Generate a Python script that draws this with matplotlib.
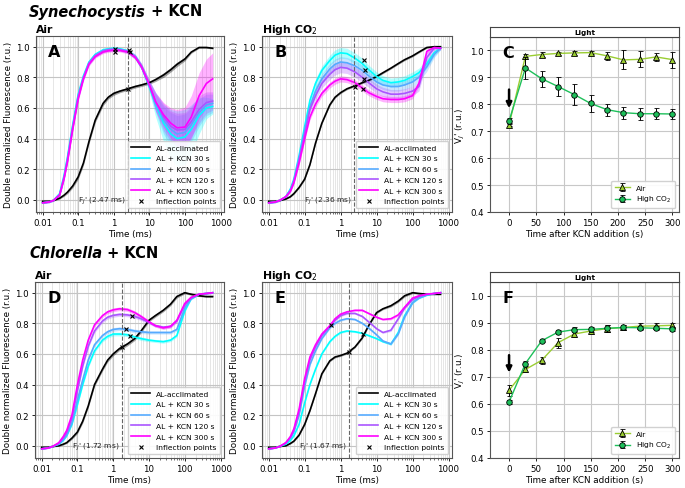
import matplotlib
matplotlib.use('Agg')
import matplotlib.pyplot as plt

# time axis of the OJIP transients (ms)
t_ms = [0.01, 0.015, 0.02, 0.03, 0.04, 0.05, 0.07, 0.1, 0.14, 0.2, 0.3, 0.5, 0.7, 1,
        1.5, 2.5, 4, 6, 10, 15, 25, 40, 60, 100, 150, 250, 400, 600]
curve_labels = ['AL-acclimated', 'AL + KCN 30 s', 'AL + KCN 60 s', 'AL + KCN 120 s', 'AL + KCN 300 s']

# ---- A : Synechocystis, air ----
a_al = [-0.01, -0.01, -0.005, 0.01, 0.03, 0.05, 0.09, 0.15, 0.24, 0.38, 0.52, 0.63, 0.67, 0.695,
        0.71, 0.725, 0.74, 0.75, 0.765, 0.785, 0.815, 0.85, 0.885, 0.92, 0.965, 0.995, 0.995, 0.99]
a_30 = [-0.02, -0.015, -0.005, 0.04, 0.16, 0.28, 0.49, 0.69, 0.81, 0.9, 0.95, 0.98, 0.986, 0.99,
        0.986, 0.972, 0.935, 0.87, 0.74, 0.62, 0.5, 0.43, 0.4, 0.41, 0.46, 0.55, 0.6, 0.61]
a_60 = [-0.02, -0.015, -0.005, 0.035, 0.15, 0.27, 0.48, 0.68, 0.8, 0.895, 0.945, 0.975, 0.982, 0.985,
        0.982, 0.97, 0.935, 0.87, 0.745, 0.63, 0.52, 0.46, 0.43, 0.44, 0.49, 0.57, 0.62, 0.63]
a_120 = [-0.02, -0.015, -0.005, 0.033, 0.14, 0.26, 0.47, 0.67, 0.795, 0.89, 0.94, 0.972, 0.98, 0.983,
         0.98, 0.97, 0.935, 0.87, 0.75, 0.64, 0.54, 0.48, 0.455, 0.46, 0.51, 0.59, 0.635, 0.645]
a_300 = [-0.02, -0.015, -0.005, 0.03, 0.14, 0.25, 0.46, 0.66, 0.79, 0.885, 0.935, 0.965, 0.973, 0.977,
         0.975, 0.965, 0.93, 0.87, 0.75, 0.64, 0.555, 0.5, 0.47, 0.475, 0.54, 0.68, 0.76, 0.79]
a_sd_al = [0.003, 0.003, 0.003, 0.005, 0.008, 0.01, 0.012, 0.015, 0.015, 0.015, 0.015, 0.015, 0.012, 0.012,
           0.01, 0.01, 0.01, 0.01, 0.01, 0.012, 0.015, 0.015, 0.015, 0.012, 0.008, 0.005, 0.005, 0.005]
a_sd_30 = [0.005, 0.005, 0.005, 0.01, 0.015, 0.015, 0.015, 0.015, 0.015, 0.012, 0.01, 0.01, 0.01, 0.01,
           0.01, 0.012, 0.015, 0.02, 0.04, 0.08, 0.12, 0.16, 0.18, 0.18, 0.16, 0.12, 0.07, 0.05]
a_sd_60 = [0.005, 0.005, 0.005, 0.01, 0.015, 0.015, 0.015, 0.015, 0.015, 0.012, 0.01, 0.01, 0.01, 0.01,
           0.01, 0.012, 0.015, 0.02, 0.03, 0.06, 0.09, 0.11, 0.12, 0.12, 0.11, 0.09, 0.07, 0.06]
a_sd_120 = [0.005, 0.005, 0.005, 0.01, 0.015, 0.015, 0.015, 0.015, 0.015, 0.012, 0.01, 0.01, 0.01, 0.01,
            0.01, 0.012, 0.015, 0.02, 0.03, 0.06, 0.09, 0.1, 0.11, 0.11, 0.1, 0.09, 0.07, 0.06]
a_sd_300 = [0.005, 0.005, 0.005, 0.01, 0.015, 0.015, 0.015, 0.015, 0.015, 0.012, 0.01, 0.01, 0.01, 0.01,
            0.01, 0.012, 0.015, 0.02, 0.03, 0.06, 0.08, 0.1, 0.12, 0.13, 0.14, 0.15, 0.16, 0.17]
a_ip_t = [2.47, 1.1, 1.1, 2.6, 2.9]
a_ip_f = [0.725, 0.982, 0.966, 0.976, 0.965]

# ---- B : Synechocystis, high CO2 ----
b_al = [-0.01, -0.01, -0.005, 0.005, 0.02, 0.04, 0.08, 0.135, 0.23, 0.37, 0.5, 0.62, 0.67, 0.70,
        0.725, 0.745, 0.765, 0.78, 0.805, 0.83, 0.86, 0.89, 0.915, 0.94, 0.965, 0.995, 1.0, 1.0]
b_30 = [-0.02, -0.015, -0.005, 0.02, 0.07, 0.135, 0.29, 0.48, 0.65, 0.76, 0.845, 0.91, 0.945, 0.96,
        0.955, 0.925, 0.89, 0.85, 0.805, 0.78, 0.765, 0.77, 0.78, 0.805, 0.83, 0.89, 0.96, 0.99]
b_60 = [-0.02, -0.015, -0.005, 0.02, 0.065, 0.125, 0.27, 0.45, 0.61, 0.71, 0.79, 0.855, 0.885, 0.9,
        0.895, 0.875, 0.845, 0.81, 0.77, 0.75, 0.74, 0.74, 0.75, 0.77, 0.8, 0.87, 0.95, 0.99]
b_120 = [-0.02, -0.015, -0.005, 0.02, 0.06, 0.12, 0.26, 0.43, 0.59, 0.68, 0.76, 0.82, 0.85, 0.865,
         0.86, 0.835, 0.8, 0.765, 0.725, 0.705, 0.69, 0.69, 0.695, 0.71, 0.74, 0.93, 0.99, 0.99]
b_300 = [-0.02, -0.015, -0.005, 0.02, 0.055, 0.11, 0.24, 0.4, 0.54, 0.625, 0.695, 0.75, 0.775, 0.79,
         0.785, 0.765, 0.73, 0.7, 0.675, 0.66, 0.655, 0.655, 0.66, 0.68, 0.76, 0.97, 0.995, 0.99]
b_sd_al = [0.003, 0.003, 0.003, 0.003, 0.004, 0.005, 0.005, 0.006, 0.006, 0.006, 0.006, 0.006, 0.006, 0.006,
           0.006, 0.006, 0.006, 0.006, 0.006, 0.006, 0.006, 0.006, 0.006, 0.006, 0.006, 0.005, 0.004, 0.004]
b_sd_kcn = [0.005, 0.005, 0.005, 0.008, 0.01, 0.012, 0.015, 0.02, 0.025, 0.03, 0.03, 0.035, 0.035, 0.035,
            0.035, 0.035, 0.035, 0.03, 0.03, 0.03, 0.03, 0.03, 0.03, 0.03, 0.03, 0.03, 0.02, 0.01]
b_sd_300 = [0.005, 0.005, 0.005, 0.006, 0.008, 0.01, 0.012, 0.015, 0.018, 0.02, 0.02, 0.02, 0.02, 0.02,
            0.02, 0.02, 0.02, 0.02, 0.02, 0.02, 0.02, 0.02, 0.02, 0.02, 0.02, 0.015, 0.01, 0.01]
b_ip_t = [2.43, 4.4, 4.7, 4.4, 4.1]
b_ip_f = [0.74, 0.913, 0.85, 0.79, 0.726]

# ---- D : Chlorella, air ----
d_al = [-0.01, -0.01, -0.005, 0.0, 0.01, 0.02, 0.05, 0.09, 0.16, 0.26, 0.4, 0.5, 0.56, 0.6,
        0.635, 0.665, 0.7, 0.75, 0.82, 0.85, 0.885, 0.925, 0.975, 1.0, 0.99, 0.98, 0.975, 0.975]
d_30 = [-0.02, -0.015, -0.005, 0.01, 0.035, 0.065, 0.14, 0.27, 0.4, 0.52, 0.62, 0.69, 0.715, 0.73,
        0.73, 0.725, 0.71, 0.7, 0.69, 0.685, 0.68, 0.69, 0.72, 0.88, 0.96, 0.99, 0.995, 1.0]
d_60 = [-0.02, -0.015, -0.005, 0.01, 0.04, 0.07, 0.15, 0.3, 0.43, 0.56, 0.66, 0.72, 0.745, 0.76,
        0.765, 0.76, 0.75, 0.745, 0.74, 0.74, 0.74, 0.74, 0.76, 0.9, 0.96, 0.99, 0.995, 1.0]
d_120 = [-0.02, -0.015, -0.005, 0.015, 0.05, 0.085, 0.18, 0.36, 0.52, 0.65, 0.75, 0.815, 0.84, 0.852,
         0.858, 0.855, 0.845, 0.83, 0.805, 0.785, 0.775, 0.78, 0.815, 0.92, 0.965, 0.99, 0.995, 1.0]
d_300 = [-0.02, -0.015, -0.005, 0.02, 0.06, 0.1, 0.2, 0.4, 0.56, 0.69, 0.79, 0.85, 0.875, 0.888,
         0.895, 0.89, 0.87, 0.845, 0.81, 0.785, 0.77, 0.78, 0.82, 0.93, 0.97, 0.99, 0.995, 1.0]
d_sd = [0.003, 0.003, 0.003, 0.004, 0.005, 0.006, 0.008, 0.01, 0.012, 0.012, 0.012, 0.012, 0.012, 0.012,
        0.012, 0.012, 0.012, 0.012, 0.01, 0.01, 0.01, 0.01, 0.01, 0.008, 0.006, 0.005, 0.005, 0.005]
d_ip_t = [1.72, 3.0, 2.3, 3.3]
d_ip_f = [0.645, 0.72, 0.762, 0.85]

# ---- E : Chlorella, high CO2 ----
e_al = [-0.01, -0.01, -0.005, 0.0, 0.015, 0.03, 0.07, 0.14, 0.23, 0.34, 0.47, 0.555, 0.58, 0.59,
        0.605, 0.645, 0.705, 0.785, 0.87, 0.895, 0.915, 0.945, 0.98, 1.0, 0.995, 0.99, 0.99, 0.99]
e_30 = [-0.02, -0.015, -0.005, 0.01, 0.035, 0.065, 0.14, 0.28, 0.4, 0.5, 0.6, 0.68, 0.715, 0.74,
        0.75, 0.745, 0.735, 0.72, 0.7, 0.68, 0.665, 0.74, 0.85, 0.935, 0.965, 0.985, 0.995, 1.0]
e_60 = [-0.02, -0.015, -0.005, 0.015, 0.05, 0.09, 0.2, 0.39, 0.53, 0.62, 0.7, 0.77, 0.8, 0.82,
        0.83, 0.825, 0.8, 0.77, 0.725, 0.685, 0.665, 0.73, 0.84, 0.935, 0.965, 0.985, 0.995, 1.0]
e_120 = [-0.02, -0.015, -0.005, 0.02, 0.055, 0.1, 0.22, 0.42, 0.56, 0.645, 0.72, 0.78, 0.82, 0.85,
         0.865, 0.865, 0.845, 0.81, 0.765, 0.74, 0.755, 0.83, 0.9, 0.955, 0.975, 0.99, 0.995, 1.0]
e_300 = [-0.02, -0.015, -0.005, 0.02, 0.06, 0.11, 0.24, 0.44, 0.58, 0.66, 0.73, 0.785, 0.83, 0.86,
         0.875, 0.885, 0.885, 0.865, 0.84, 0.825, 0.83, 0.855, 0.905, 0.965, 0.98, 0.99, 0.995, 1.0]
e_sd = [0.002, 0.002, 0.002, 0.003, 0.004, 0.004, 0.005, 0.006, 0.006, 0.006, 0.006, 0.006, 0.006, 0.006,
        0.006, 0.006, 0.006, 0.006, 0.006, 0.006, 0.008, 0.008, 0.008, 0.006, 0.005, 0.004, 0.004, 0.004]
e_ip_t = [1.67, 0.55, 4.1]
e_ip_f = [0.61, 0.79, 0.73]

# ---- C / F : VJ' after KCN addition ----
kcn_t = [0, 30, 60, 90, 120, 150, 180, 210, 240, 270, 300]
c_air = [0.724, 0.978, 0.985, 0.989, 0.991, 0.992, 0.980, 0.965, 0.967, 0.976, 0.966]
c_air_err = [0.006, 0.008, 0.008, 0.005, 0.007, 0.005, 0.015, 0.035, 0.03, 0.015, 0.03]
c_hc = [0.738, 0.935, 0.895, 0.866, 0.836, 0.803, 0.780, 0.769, 0.765, 0.765, 0.764]
c_hc_err = [0.01, 0.04, 0.03, 0.035, 0.04, 0.03, 0.022, 0.022, 0.022, 0.02, 0.018]
f_air = [0.650, 0.727, 0.761, 0.826, 0.858, 0.869, 0.878, 0.882, 0.887, 0.888, 0.890]
f_air_err = [0.02, 0.01, 0.012, 0.018, 0.012, 0.012, 0.012, 0.01, 0.012, 0.01, 0.01]
f_hc = [0.607, 0.749, 0.833, 0.865, 0.874, 0.875, 0.879, 0.882, 0.881, 0.879, 0.877]
f_hc_err = [0.008, 0.008, 0.006, 0.006, 0.008, 0.01, 0.012, 0.01, 0.008, 0.008, 0.008]

cmap = plt.cm.cool
colors = ['black', cmap(0.0), cmap(1 / 3), cmap(2 / 3), cmap(1.0)]

W, H = 685, 489
fig = plt.figure(figsize=(W / 100, H / 100), dpi=100)

TICK = 6.2
LAB = 6.3
LEG = 5.4


def rect(l, t, r, b):
    return [l / W, 1 - b / H, (r - l) / W, (b - t) / H]


def ojip(box, curves, sds, ip_t, ip_f, fj, letter, title):
    ax = fig.add_axes(box)
    ax.set_xscale('log')
    for i, (y, sd) in enumerate(zip(curves, sds)):
        lo = [v - s for v, s in zip(y, sd)]
        hi = [v + s for v, s in zip(y, sd)]
        ax.fill_between(t_ms, lo, hi, color=colors[i], alpha=0.3 if i else 0.35, lw=0, zorder=2)
    for i, y in enumerate(curves):
        ax.plot(t_ms, y, color=colors[i], lw=1.2, label=curve_labels[i], zorder=3)
    ax.plot(ip_t, ip_f, 'x', color='black', ms=3.5, mew=0.8, ls='none', label='Inflection points', zorder=4)
    ax.axvline(fj, color='#666666', ls='--', lw=0.8, zorder=3)
    ax.text(fj / 1.12, -0.005, "F$_J$' (%.2f ms)" % fj, ha='right', va='center', fontsize=5.4, color='#222222')
    ax.set_xlim(0.0065, 1250)
    ax.set_ylim(-0.08, 1.07)
    ax.set_xticks([0.01, 0.1, 1, 10, 100, 1000])
    ax.set_xticklabels(['0.01', '0.1', '1', '10', '100', '1000'])
    ax.set_yticks([0.0, 0.2, 0.4, 0.6, 0.8, 1.0])
    ax.set_yticklabels(['0.0', '0.2', '0.4', '0.6', '0.8', '1.0'])
    ax.tick_params(labelsize=TICK, length=2.5, width=0.6, pad=2)
    ax.tick_params(which='minor', length=1.3, width=0.4)
    ax.grid(True, which='major', color='#c4c4c4', lw=0.8, zorder=0)
    ax.grid(True, which='minor', axis='x', color='#e2e2e2', lw=0.6, zorder=0)
    ax.set_axisbelow(True)
    for s in ax.spines.values():
        s.set_color('#555555')
    ax.set_xlabel('Time (ms)', fontsize=LAB, labelpad=1)
    ax.set_ylabel('Double normalized Fluorescence (r.u.)', fontsize=LAB, labelpad=2)
    ax.set_title(title, loc='left', fontsize=7.8, fontweight='bold', pad=3)
    ax.text(0.065, 0.955, letter, transform=ax.transAxes, fontsize=11.5, fontweight='bold', va='top')
    ax.legend(loc='lower right', fontsize=LEG, labelspacing=0.6, handlelength=2.5,
              borderpad=0.5, framealpha=0.9, edgecolor='#cccccc')
    return ax


def vj(box, strip, air, air_err, hc, hc_err, arrow_top, arrow_tip, letter):
    ax = fig.add_axes(box)
    ax.errorbar(kcn_t, air, yerr=air_err, color='#9acd32', lw=1.0, marker='^', ms=4,
                mfc='#9acd32', mec='black', mew=0.6, ecolor='black', elinewidth=0.7, capsize=1.8,
                label='Air', zorder=3)
    ax.errorbar(kcn_t, hc, yerr=hc_err, color='#1dbf5a', lw=1.0, marker='o', ms=4,
                mfc='#1dbf5a', mec='black', mew=0.6, ecolor='black', elinewidth=0.7, capsize=1.8,
                label='High CO$_2$', zorder=4)
    ax.annotate('', xy=(0, arrow_tip), xytext=(0, arrow_top),
                arrowprops=dict(arrowstyle='-|>', color='black', lw=1.8, mutation_scale=8))
    ax.set_xlim(-35, 312)
    ax.set_ylim(0.4, 1.05)
    ax.set_xticks([0, 50, 100, 150, 200, 250, 300])
    ax.set_yticks([0.4, 0.5, 0.6, 0.7, 0.8, 0.9, 1.0])
    ax.tick_params(labelsize=TICK, length=2.5, width=0.6, pad=2)
    ax.grid(True, color='#c8c8c8', lw=0.8, zorder=0)
    ax.set_axisbelow(True)
    for s in ax.spines.values():
        s.set_color('#555555')
    ax.set_xlabel('Time after KCN addition (s)', fontsize=LAB, labelpad=1)
    ax.set_ylabel("V$_J$' (r.u.)", fontsize=LAB, labelpad=2)
    ax.text(0.065, 0.955, letter, transform=ax.transAxes, fontsize=11.5, fontweight='bold', va='top')
    ax.legend(loc='lower right', fontsize=LEG, labelspacing=0.5, borderpad=0.5,
              framealpha=0.9, edgecolor='#cccccc')
    sx = fig.add_axes(strip)
    sx.set_xticks([])
    sx.set_yticks([])
    for s in sx.spines.values():
        s.set_color('#444444')
    sx.text(0.5, 0.5, 'Light', ha='center', va='center', fontsize=5.2, fontweight='bold')
    return ax


ojip(rect(36, 37, 224, 213), [a_al, a_30, a_60, a_120, a_300],
     [a_sd_al, a_sd_30, a_sd_60, a_sd_120, a_sd_300], a_ip_t, a_ip_f, 2.47, 'A', 'Air')
ojip(rect(262, 37, 452, 213), [b_al, b_30, b_60, b_120, b_300],
     [b_sd_al, b_sd_kcn, b_sd_kcn, b_sd_kcn, b_sd_300], b_ip_t, b_ip_f, 2.36, 'B', 'High CO$_2$')
vj(rect(490, 38, 679, 213), rect(490, 28, 679, 38), c_air, c_air_err, c_hc, c_hc_err, 0.865, 0.775, 'C')
ojip(rect(35, 283, 224, 459), [d_al, d_30, d_60, d_120, d_300],
     [d_sd, d_sd, d_sd, d_sd, d_sd], d_ip_t, d_ip_f, 1.72, 'D', 'Air')
ojip(rect(262, 283, 452, 459), [e_al, e_30, e_60, e_120, e_300],
     [e_sd, e_sd, e_sd, e_sd, e_sd], e_ip_t, e_ip_f, 1.67, 'E', 'High CO$_2$')
vj(rect(490, 283, 679, 459), rect(490, 273, 679, 283), f_air, f_air_err, f_hc, f_hc_err, 0.79, 0.705, 'F')

# row headings: italic genus name followed by " + KCN"
renderer = fig.canvas.get_renderer()
for name, ypx in [('Synechocystis', 12), ('Chlorella', 253)]:
    t1 = fig.text(29 / W, 1 - ypx / H, name, fontsize=10.5, fontweight='bold', style='italic', va='center')
    bb = t1.get_window_extent(renderer)
    fig.text(bb.x1 / W, 1 - ypx / H, ' + KCN', fontsize=10.5, fontweight='bold', va='center')

fig.savefig('out.png', dpi=100)
